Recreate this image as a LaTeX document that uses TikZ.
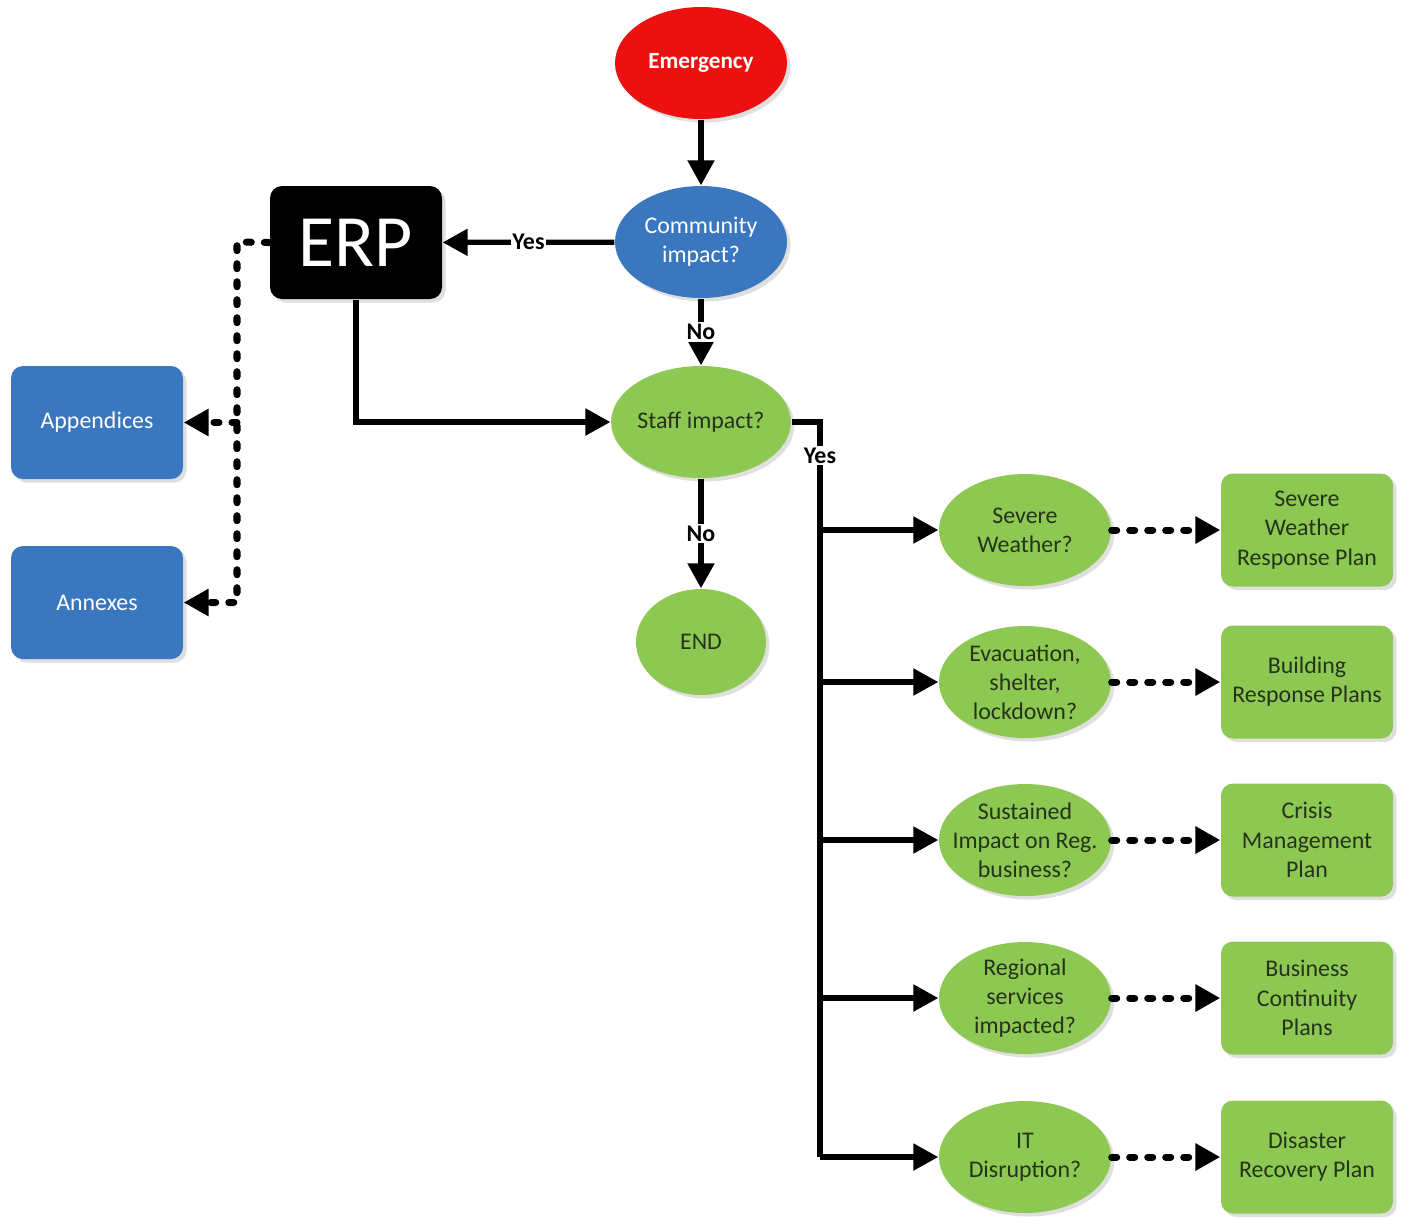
\documentclass[tikz,border=0pt]{standalone}
\usepackage{fontspec}
\setmainfont{Carlito}
\usetikzlibrary{shapes.geometric,arrows.meta,shadows}
\definecolor{erred}{HTML}{EC1010}
\definecolor{erblue}{HTML}{3B77BE}
\definecolor{ergreen}{HTML}{8DC853}
\definecolor{ertext}{HTML}{25331A}
\begin{document}
\begin{tikzpicture}[
        shade/.style={drop shadow={opacity=0.25, shadow xshift=0.035cm, shadow yshift=-0.035cm}},
        oval/.style={ellipse, inner sep=0pt, minimum width=1.72cm, minimum height=1.12cm, align=center, font=\fontsize{6.8}{8.3}\selectfont, shade},
        redoval/.style={oval, fill=erred, text=white, font=\fontsize{6.6}{8.3}\selectfont\bfseries},
        blueoval/.style={oval, fill=erblue, text=white},
        greenoval/.style={oval, fill=ergreen, text=ertext},
        box/.style={rectangle, rounded corners=0.12cm, inner sep=0pt, minimum width=1.72cm, minimum height=1.13cm, align=center, font=\fontsize{6.8}{8.3}\selectfont, shade},
        bluebox/.style={box, fill=erblue, text=white},
        greenbox/.style={box, fill=ergreen, text=ertext},
        erpbox/.style={box, fill=black, text=white, font=\fontsize{21}{21}\selectfont},
        line/.style={line width=1.5pt},
        arr/.style={line, -{Triangle[length=0.25cm, width=0.26cm]}},
        dline/.style={line width=2pt, dash pattern=on 0.05cm off 0.13cm, line cap=round},
        darr/.style={dline, -{Triangle[length=0.25cm, width=0.26cm]}},
        lab/.style={fill=white, inner sep=0.5pt, font=\fontsize{6.8}{8}\selectfont\bfseries}
    ]
    \useasboundingbox (0,0) rectangle (14.03,-12.17);
    % main column
    \node[redoval] (emerg) at (7.01,-0.63) {Emergency};
    \node[blueoval] (comm) at (7.01,-2.42) {Community\\impact?};
    \node[erpbox] (erp) at (3.56,-2.425) {ERP};
    \node[greenoval, minimum width=1.74cm] (staff) at (7.01,-4.22) {Staff impact?};
    \node[greenoval, minimum width=1.30cm, minimum height=1.06cm] (end) at (7.01,-6.42) {END};
    % left boxes
    \node[bluebox] (app) at (0.97,-4.225) {Appendices};
    \node[bluebox] (ann) at (0.97,-6.025) {Annexes};
    % questions
    \node[greenoval] (q1) at (10.25,-5.30) {Severe\\Weather?};
    \node[greenoval] (q2) at (10.25,-6.82) {Evacuation,\\shelter,\\lockdown?};
    \node[greenoval, inner xsep=-0.16cm] (q3) at (10.25,-8.40) {Sustained\\Impact on Reg.\\business?};
    \node[greenoval] (q4) at (10.25,-9.98) {Regional\\services\\impacted?};
    \node[greenoval] (q5) at (10.25,-11.57) {IT\\Disruption?};
    % plans
    \node[greenbox] (p1) at (13.07,-5.30) {Severe\\Weather\\Response Plan};
    \node[greenbox] (p2) at (13.07,-6.82) {Building\\Response Plans};
    \node[greenbox] (p3) at (13.07,-8.40) {Crisis\\Management\\Plan};
    \node[greenbox] (p4) at (13.07,-9.98) {Business\\Continuity\\Plans};
    \node[greenbox] (p5) at (13.07,-11.57) {Disaster\\Recovery Plan};

    \coordinate (trunk) at (8.20,-4.22);
    \coordinate (dx) at (2.37,-2.42);

    % connectors
    \draw[arr] (emerg) -- (comm);
    \draw[arr] (comm) -- node[lab] {Yes} (erp);
    \draw[arr] (comm) -- node[lab] {No} (staff);
    \draw[arr] (erp.south) |- (staff);
    \draw[arr] (staff) -- node[lab] {No} (end);
    \draw[line] (staff.east) -- (trunk) -- node[lab, pos=0.046] {Yes} (trunk |- q5);
    \foreach \i in {1,...,5} {
        \draw[arr] (trunk |- q\i) -- (q\i);
        \draw[darr] (q\i) -- (p\i);
    }
    \draw[darr] (erp.west) -- (dx) |- (ann);
    \draw[darr] (dx |- app) -- (app);
\end{tikzpicture}
\end{document}
